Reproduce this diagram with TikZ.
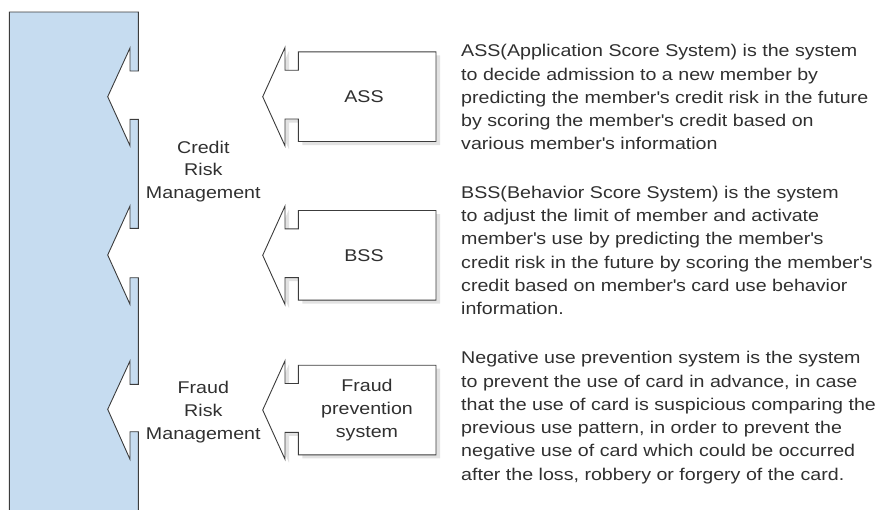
\documentclass[tikz,border=0pt]{standalone}
\usepackage{fontspec}
\setmainfont[FakeStretch=1.155]{Liberation Sans}
\definecolor{barblue}{RGB}{198,220,240}
\definecolor{linegray}{RGB}{60,60,60}
\definecolor{txtgray}{RGB}{48,48,48}
\definecolor{shadowgray}{RGB}{226,226,226}
\newcommand\aq{\textquotesingle}
\begin{document}
\begin{tikzpicture}[x=1pt,y=-1pt,
  outline/.style={draw=linegray,line width=0.9pt,line join=miter},
  label/.style={font=\fontsize{17}{22.6}\selectfont,text=txtgray,align=center,inner sep=0pt},
  desc/.style={font=\fontsize{17}{23.25}\selectfont,text=txtgray,align=left,inner sep=0pt,anchor=north west},
  arrowbox/.pic={
    \fill[shadowgray,shift={(4,3.5)}] (-104.3,0) -- (-82,-49.2) -- (-82,-26.5) -- (-68.7,-26.5) -- (-68.7,-44.8) -- (69,-44.8) -- (69,44.8) -- (-68.7,44.8) -- (-68.7,22.3) -- (-82,22.3) -- (-82,49.2) -- cycle;
    \filldraw[fill=white,outline] (-104.3,0) -- (-82,-49.2) -- (-82,-26.5) -- (-68.7,-26.5) -- (-68.7,-44.8) -- (69,-44.8) -- (69,44.8) -- (-68.7,44.8) -- (-68.7,22.3) -- (-82,22.3) -- (-82,49.2) -- cycle;
  }]
\useasboundingbox (0,0) rectangle (877,509);
\begin{scope}
\clip (0,0) rectangle (877,509);
\filldraw[fill=barblue,outline] (9.3,12) -- (138.3,12)
  -- (138.3,71) -- (130,71) -- (130,48) -- (107.7,96.7) -- (130,145.7) -- (130,119.3) -- (138.3,119.3)
  -- (138.3,228.3) -- (130,228.3) -- (130,206) -- (107.7,255) -- (130,304.3) -- (130,277.7) -- (138.3,277.7)
  -- (138.3,384.3) -- (130,384.3) -- (130,361) -- (107.7,409.3) -- (130,459.3) -- (130,431.7) -- (138.3,431.7)
  -- (138.3,530) -- (9.3,530) -- cycle;
\end{scope}

\pic at (367,96.7) {arrowbox};
\pic at (367,255.3) {arrowbox};
\pic at (367,410) {arrowbox};

\node[label] (ass) at (364,97) {ASS};
\node[label] (bss) at (364,256) {BSS};
\node[label] (fps) at (367,410) {Fraud\\prevention\\system};

\node[label] (credit) at (203.3,171.5) {Credit\\Risk\\Management};
\node[label] (fraud) at (203.3,412) {Fraud\\Risk\\Management};

\node[desc] (assdesc) at (461,44.3) {ASS(Application Score System) is the system\\to decide admission to a new member by\\predicting the member\aq s credit risk in the future\\by scoring the member\aq s credit based on\\various member\aq s information};
\node[desc] (bssdesc) at (461,185.8) {BSS(Behavior Score System) is the system\\to adjust the limit of member and activate\\member\aq s use by predicting the member\aq s\\credit risk in the future by scoring the member\aq s\\credit based on member\aq s card use behavior\\information.};
\node[desc] (fpsdesc) at (461,351.3) {Negative use prevention system is the system\\to prevent the use of card in advance, in case\\that the use of card is suspicious comparing the\\previous use pattern, in order to prevent the\\negative use of card which could be occurred\\after the loss, robbery or forgery of the card.};
\end{tikzpicture}
\end{document}
